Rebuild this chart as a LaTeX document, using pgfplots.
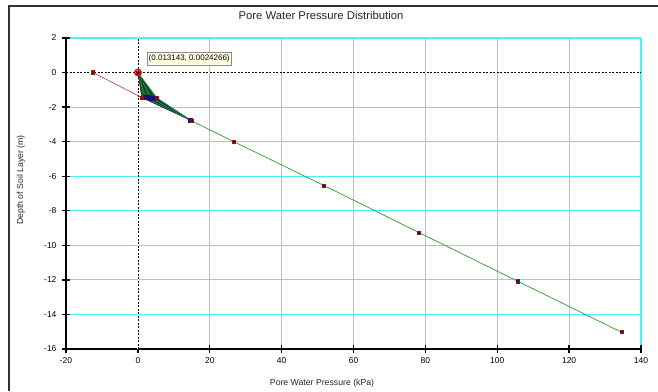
\documentclass[border=0pt]{standalone}
\usepackage{pgfplots}
\pgfplotsset{compat=1.18}
\usepackage{fontspec}
\setmainfont{Liberation Sans}
\definecolor{gridcyan}{RGB}{70,242,242}
\definecolor{lgreen}{RGB}{50,150,50}
\definecolor{dgreen}{RGB}{20,100,20}
\definecolor{dred}{RGB}{150,20,20}
\definecolor{lred}{RGB}{170,60,60}
\definecolor{navy}{RGB}{20,20,110}
\definecolor{tipbg}{RGB}{255,255,228}
\begin{document}
\begin{tikzpicture}
\path[use as bounding box] (0pt,0pt) rectangle (658pt,391pt);
% window frame
\draw[line width=1.5pt, black!80] (9pt,0pt) -- (9pt,385pt) -- (658pt,385pt);
\begin{axis}[
  at={(66pt,42pt)}, anchor=south west,
  scale only axis, width=575pt, height=311pt,
  xmin=-20, xmax=140, ymin=-16, ymax=2,
  xtick={-20,0,...,140}, ytick={-16,-14,...,2},
  axis x line=bottom, axis y line=left,
  axis line style={-, line width=1.3pt, black},
  grid=major,
  major grid style={draw=gridcyan, line width=1.1pt},
  tick align=center, major tick length=8pt,
  tick style={line width=1.3pt, black},
  tick label style={font=\fontsize{8.5}{10}\selectfont},
  /pgf/number format/assume math mode=true,
  xticklabel style={yshift=-1pt},
  yticklabel style={xshift=-2pt},
  clip=false,
]
% dashed zero lines
\draw[white, line width=1.3pt] (axis cs:0,-16) -- (axis cs:0,2);
\draw[white, line width=1.3pt] (axis cs:-20,0) -- (axis cs:140,0);
\draw[black, dash pattern=on 2pt off 1.5pt, line width=0.7pt] (axis cs:0,-16) -- (axis cs:0,2);
\draw[black, dash pattern=on 2pt off 1.5pt, line width=0.7pt] (axis cs:-20,0) -- (axis cs:140,0);
% fan of time steps
\addplot[draw=navy, line width=0.5pt, fill=dgreen] coordinates {(0,0) (1.1,-1.45) (15,-2.8) (5.2,-1.46) (0,0)};
\addplot[lgreen, line width=0.5pt] coordinates {(0,0) (2.0,-1.45) (15,-2.8)};
\addplot[navy, line width=0.5pt] coordinates {(0,0) (2.8,-1.45) (15,-2.8)};
\addplot[lgreen, line width=0.5pt] coordinates {(0,0) (3.6,-1.46) (15,-2.8)};
\addplot[navy, line width=0.5pt] coordinates {(0,0) (4.4,-1.46) (15,-2.8)};
\addplot[only marks, mark=square*, mark size=2pt, mark options={fill=navy, draw=navy}] coordinates {(2.0,-1.45) (2.8,-1.45) (3.6,-1.46) (4.4,-1.46) (14.5,-2.78)};
% red series
\addplot[lred, line width=0.6pt, mark=square*, mark size=1.8pt, mark options={fill=dred, draw=dred}] coordinates {(-12.5,0) (1.1,-1.45)};
% main green series
\addplot[lgreen, line width=0.7pt, mark=square*, mark size=1.6pt, mark options={fill=navy, draw=dred}] coordinates {
(0,0) (5.2,-1.46) (15,-2.8) (26.7,-4.0) (51.8,-6.54) (78.2,-9.26) (105.7,-12.08) (134.6,-15.03)};
% selected point
\addplot[only marks, mark=o, mark size=3.2pt, mark options={draw=red, line width=1.4pt, fill=white}] coordinates {(0.013143,0.0024266)};
\end{axis}
\node[font=\fontsize{11.3}{13}\selectfont, text=black!85] at (321pt,376pt) {Pore Water Pressure Distribution};
\node[font=\fontsize{8.7}{10}\selectfont, text=black!85] at (322pt,8pt) {Pore Water Pressure (kPa)};
\node[font=\fontsize{8.7}{10}\selectfont, text=black!85, rotate=90] at (21pt,211pt) {Depth of Soil Layer (m)};
\node[anchor=south west, draw=black!45, fill=tipbg, minimum width=84pt, minimum height=12.5pt, inner sep=1pt, font=\fontsize{8}{9}\selectfont] at (147pt,326pt) {(0.013143, 0.0024266)};
\end{tikzpicture}
\end{document}
